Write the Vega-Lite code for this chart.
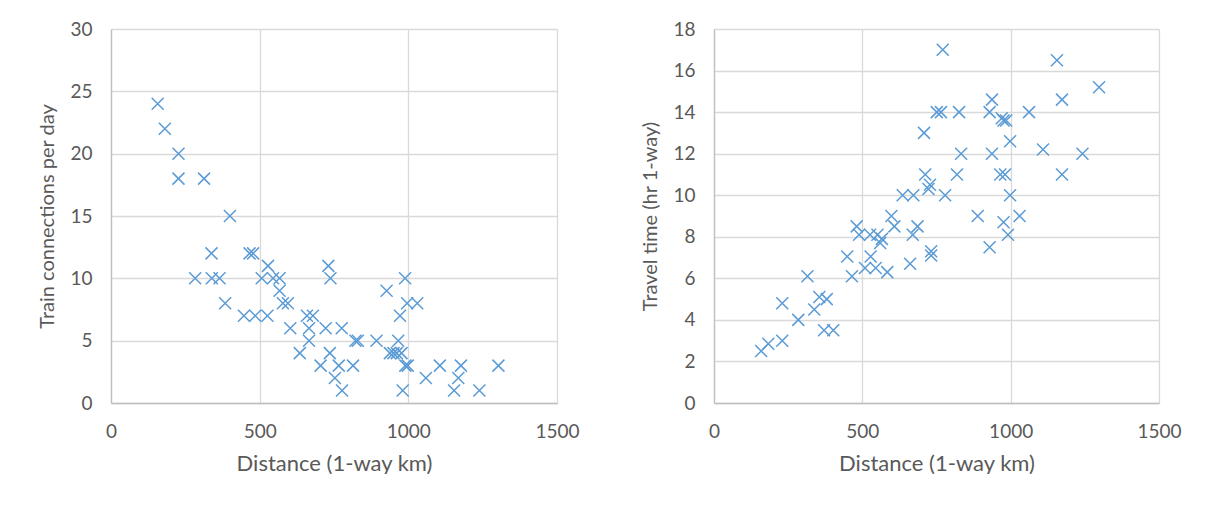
{
  "$schema": "https://vega.github.io/schema/vega-lite/v6.json",
  "background": "white",
  "padding": {"left": 37, "top": 20, "right": 0, "bottom": 0},
  "datasets": {
    "connections": [
      {"distance": 157, "trains": 24}, {"distance": 181, "trains": 22}, {"distance": 227, "trains": 20},
      {"distance": 227, "trains": 18}, {"distance": 313, "trains": 18}, {"distance": 400, "trains": 15},
      {"distance": 338, "trains": 12}, {"distance": 466, "trains": 12}, {"distance": 478, "trains": 12},
      {"distance": 283, "trains": 10}, {"distance": 339, "trains": 10}, {"distance": 365, "trains": 10},
      {"distance": 384, "trains": 8}, {"distance": 447, "trains": 7}, {"distance": 485, "trains": 7},
      {"distance": 526, "trains": 7}, {"distance": 528, "trains": 11}, {"distance": 507, "trains": 10},
      {"distance": 545, "trains": 10}, {"distance": 567, "trains": 10}, {"distance": 567, "trains": 9},
      {"distance": 578, "trains": 8}, {"distance": 595, "trains": 8}, {"distance": 603, "trains": 6},
      {"distance": 635, "trains": 4}, {"distance": 659, "trains": 7}, {"distance": 679, "trains": 7},
      {"distance": 666, "trains": 6}, {"distance": 666, "trains": 5}, {"distance": 722, "trains": 6},
      {"distance": 776, "trains": 6}, {"distance": 731, "trains": 11}, {"distance": 738, "trains": 10},
      {"distance": 705, "trains": 3}, {"distance": 736, "trains": 4}, {"distance": 753, "trains": 2},
      {"distance": 777, "trains": 1}, {"distance": 766, "trains": 3}, {"distance": 989, "trains": 10},
      {"distance": 927, "trains": 9}, {"distance": 996, "trains": 8}, {"distance": 1030, "trains": 8},
      {"distance": 972, "trains": 7}, {"distance": 822, "trains": 5}, {"distance": 830, "trains": 5},
      {"distance": 893, "trains": 5}, {"distance": 966, "trains": 5}, {"distance": 938, "trains": 4},
      {"distance": 950, "trains": 4}, {"distance": 961, "trains": 4}, {"distance": 977, "trains": 4},
      {"distance": 990, "trains": 3}, {"distance": 998, "trains": 3}, {"distance": 1059, "trains": 2},
      {"distance": 1106, "trains": 3}, {"distance": 1177, "trains": 3}, {"distance": 1168, "trains": 2},
      {"distance": 1303, "trains": 3}, {"distance": 1154, "trains": 1}, {"distance": 1239, "trains": 1},
      {"distance": 981, "trains": 1}, {"distance": 814, "trains": 3}
    ],
    "travel": [
      {"distance": 159, "hours": 2.5}, {"distance": 183, "hours": 2.85}, {"distance": 230, "hours": 3.0},
      {"distance": 230, "hours": 4.8}, {"distance": 284, "hours": 4.0}, {"distance": 315, "hours": 6.1},
      {"distance": 338, "hours": 4.5}, {"distance": 355, "hours": 5.1}, {"distance": 380, "hours": 5.0},
      {"distance": 371, "hours": 3.5}, {"distance": 402, "hours": 3.5}, {"distance": 449, "hours": 7.05},
      {"distance": 465, "hours": 6.1}, {"distance": 481, "hours": 8.5}, {"distance": 489, "hours": 8.1},
      {"distance": 526, "hours": 8.1}, {"distance": 551, "hours": 8.1}, {"distance": 566, "hours": 7.9},
      {"distance": 560, "hours": 7.7}, {"distance": 528, "hours": 7.05}, {"distance": 509, "hours": 6.5},
      {"distance": 545, "hours": 6.5}, {"distance": 584, "hours": 6.3}, {"distance": 598, "hours": 9.0},
      {"distance": 608, "hours": 8.5}, {"distance": 636, "hours": 10}, {"distance": 672, "hours": 10},
      {"distance": 670, "hours": 8.1}, {"distance": 686, "hours": 8.5}, {"distance": 661, "hours": 6.7},
      {"distance": 708, "hours": 13}, {"distance": 712, "hours": 11}, {"distance": 728, "hours": 10.5},
      {"distance": 723, "hours": 10.3}, {"distance": 779, "hours": 10}, {"distance": 732, "hours": 7.3},
      {"distance": 732, "hours": 7.1}, {"distance": 751, "hours": 14}, {"distance": 765, "hours": 14},
      {"distance": 771, "hours": 17}, {"distance": 1156, "hours": 16.5}, {"distance": 1298, "hours": 15.2},
      {"distance": 1173, "hours": 14.6}, {"distance": 937, "hours": 14.6}, {"distance": 929, "hours": 14},
      {"distance": 826, "hours": 14}, {"distance": 1062, "hours": 14}, {"distance": 970, "hours": 13.7},
      {"distance": 985, "hours": 13.6}, {"distance": 976, "hours": 13.6}, {"distance": 998, "hours": 12.6},
      {"distance": 833, "hours": 12}, {"distance": 937, "hours": 12}, {"distance": 1109, "hours": 12.2},
      {"distance": 1242, "hours": 12}, {"distance": 819, "hours": 11}, {"distance": 965, "hours": 11},
      {"distance": 981, "hours": 11}, {"distance": 1173, "hours": 11}, {"distance": 998, "hours": 10},
      {"distance": 889, "hours": 9}, {"distance": 1030, "hours": 9}, {"distance": 976, "hours": 8.7},
      {"distance": 991, "hours": 8.1}, {"distance": 929, "hours": 7.5}
    ]
  },
  "spacing": 60,
  "hconcat": [
    {
      "width": 446,
      "height": 374,
      "data": {"name": "connections"},
      "mark": {"type": "point", "shape": "M-1,-1L1,1M-1,1L1,-1", "filled": false, "size": 144, "stroke": "#5B9BD5", "strokeWidth": 1.5, "opacity": 1},
      "encoding": {
        "x": {"field": "distance", "type": "quantitative", "scale": {"domain": [0, 1500], "nice": false},
              "axis": {"title": "Distance (1-way km)", "values": [0, 500, 1000, 1500]}},
        "y": {"field": "trains", "type": "quantitative", "scale": {"domain": [0, 30], "nice": false},
              "axis": {"title": "Train connections per day", "values": [0, 5, 10, 15, 20, 25, 30]}}
      }
    },
    {
      "width": 445,
      "height": 374,
      "data": {"name": "travel"},
      "mark": {"type": "point", "shape": "M-1,-1L1,1M-1,1L1,-1", "filled": false, "size": 144, "stroke": "#5B9BD5", "strokeWidth": 1.5, "opacity": 1},
      "encoding": {
        "x": {"field": "distance", "type": "quantitative", "scale": {"domain": [0, 1500], "nice": false},
              "axis": {"title": "Distance (1-way km)", "values": [0, 500, 1000, 1500]}},
        "y": {"field": "hours", "type": "quantitative", "scale": {"domain": [0, 18], "nice": false},
              "axis": {"title": "Travel time (hr 1-way)", "values": [0, 2, 4, 6, 8, 10, 12, 14, 16, 18]}}
      }
    }
  ],
  "config": {
    "view": {"stroke": null},
    "font": "Lato",
    "axis": {
      "grid": true,
      "gridColor": "#D9D9D9",
      "gridWidth": 1.3,
      "domainColor": "#BFBFBF",
      "domainWidth": 1.3,
      "ticks": false,
      "format": "d",
      "labelFlush": false,
      "labelOverlap": false,
      "labelFont": "Lato",
      "labelFontSize": 19,
      "labelColor": "#595959",
      "labelPadding": 19,
      "titleFont": "Lato",
      "titleFontSize": 20,
      "titleFontWeight": "normal",
      "titleColor": "#595959"
    },
    "axisX": {"titlePadding": 12, "titleFontSize": 22},
    "axisY": {"titlePadding": 12}
  }
}
